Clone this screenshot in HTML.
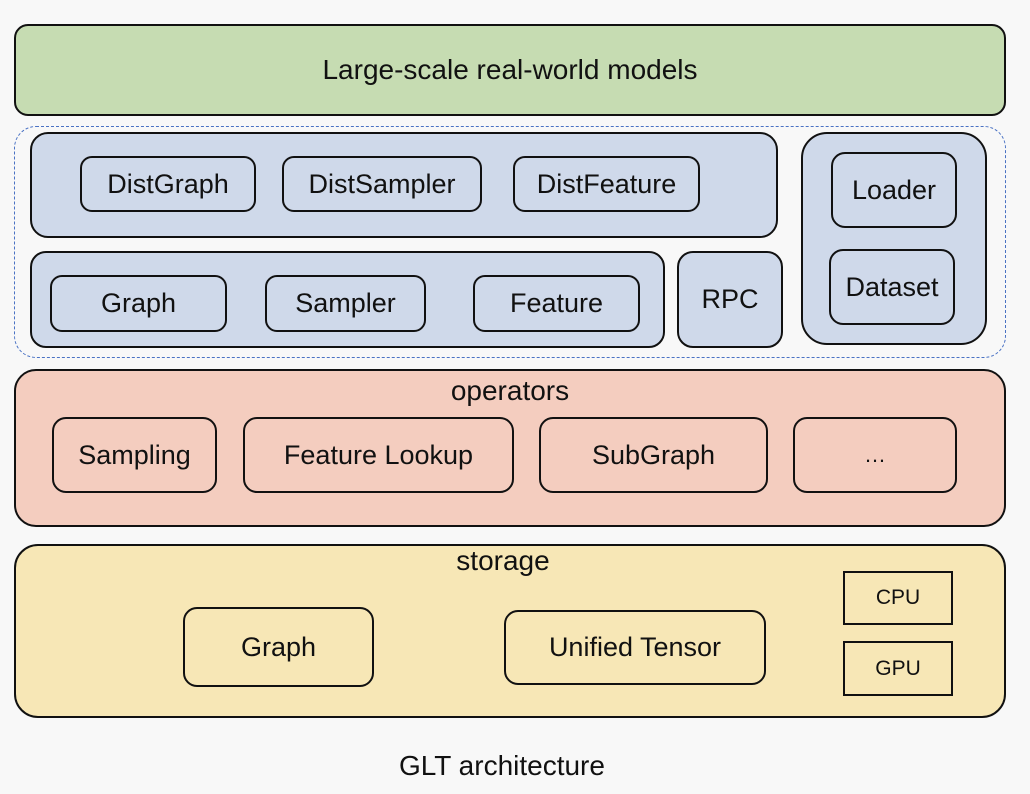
<!DOCTYPE html>
<html><head><meta charset="utf-8"><style>
body{margin:0;background:#f8f8f8;}
#c{position:relative;width:1030px;height:794px;font-family:"Liberation Sans",sans-serif;color:#111;}
.b{position:absolute;box-sizing:border-box;border:2px solid #111;display:flex;align-items:center;justify-content:center;font-size:27px;}
.t{position:absolute;font-size:28px;text-align:center;}
</style></head><body><div id="c">
<div class="b" style="left:14px;top:24px;width:992px;height:92px;border-radius:14px;background:#c6dcb2;font-size:28px">Large-scale real-world models</div>
<div class="b" style="left:14px;top:126px;width:992px;height:232px;border-radius:22px;border:1.5px dashed #4a72c4;background:transparent"></div>
<div class="b" style="left:30px;top:132px;width:748px;height:106px;border-radius:18px;background:#cfd9ea"></div>
<div class="b" style="left:80px;top:156px;width:176px;height:56px;border-radius:12px;background:#cfd9ea">DistGraph</div>
<div class="b" style="left:282px;top:156px;width:200px;height:56px;border-radius:12px;background:#cfd9ea">DistSampler</div>
<div class="b" style="left:513px;top:156px;width:187px;height:56px;border-radius:12px;background:#cfd9ea">DistFeature</div>
<div class="b" style="left:30px;top:251px;width:635px;height:97px;border-radius:16px;background:#cfd9ea"></div>
<div class="b" style="left:50px;top:275px;width:177px;height:57px;border-radius:12px;background:#cfd9ea">Graph</div>
<div class="b" style="left:265px;top:275px;width:161px;height:57px;border-radius:12px;background:#cfd9ea">Sampler</div>
<div class="b" style="left:473px;top:275px;width:167px;height:57px;border-radius:12px;background:#cfd9ea">Feature</div>
<div class="b" style="left:677px;top:251px;width:106px;height:97px;border-radius:16px;background:#cfd9ea">RPC</div>
<div class="b" style="left:801px;top:132px;width:186px;height:213px;border-radius:26px;background:#cfd9ea"></div>
<div class="b" style="left:831px;top:152px;width:126px;height:76px;border-radius:14px;background:#cfd9ea">Loader</div>
<div class="b" style="left:829px;top:249px;width:126px;height:76px;border-radius:14px;background:#cfd9ea">Dataset</div>
<div class="b" style="left:14px;top:369px;width:992px;height:158px;border-radius:22px;background:#f4cdbf"></div>
<div class="t" style="left:14px;top:375px;width:992px">operators</div>
<div class="b" style="left:52px;top:417px;width:165px;height:76px;border-radius:14px;background:#f4cdbf">Sampling</div>
<div class="b" style="left:243px;top:417px;width:271px;height:76px;border-radius:14px;background:#f4cdbf">Feature Lookup</div>
<div class="b" style="left:539px;top:417px;width:229px;height:76px;border-radius:14px;background:#f4cdbf">SubGraph</div>
<div class="b" style="left:793px;top:417px;width:164px;height:76px;border-radius:14px;background:#f4cdbf;font-size:22px">…</div>
<div class="b" style="left:14px;top:544px;width:992px;height:174px;border-radius:24px;background:#f7e7b6"></div>
<div class="t" style="left:14px;top:545px;width:978px">storage</div>
<div class="b" style="left:183px;top:607px;width:191px;height:80px;border-radius:14px;background:#f7e7b6">Graph</div>
<div class="b" style="left:504px;top:610px;width:262px;height:75px;border-radius:14px;background:#f7e7b6">Unified Tensor</div>
<div class="b" style="left:843px;top:571px;width:110px;height:54px;background:#f7e7b6;font-size:21px">CPU</div>
<div class="b" style="left:843px;top:641px;width:110px;height:55px;background:#f7e7b6;font-size:21px">GPU</div>
<div class="t" style="left:302px;top:750px;width:400px">GLT architecture</div>
</div></body></html>
